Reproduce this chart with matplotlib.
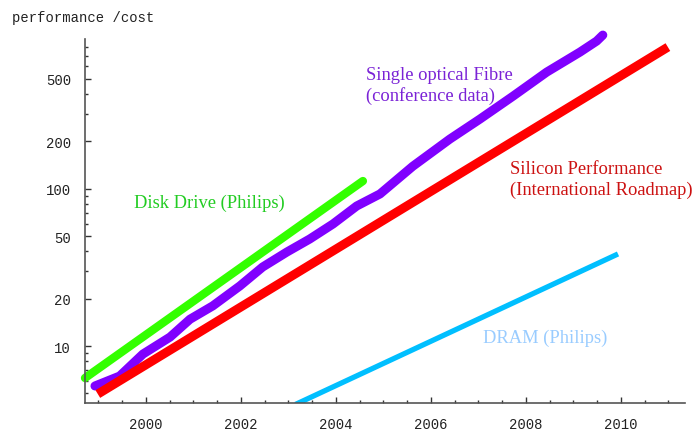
import numpy as np
import matplotlib
matplotlib.use("Agg")
import matplotlib.pyplot as plt
from matplotlib.ticker import FixedLocator, LogLocator, NullFormatter, MultipleLocator

# Data (year, performance/cost)
disk_years = [1998.72, 2004.57]
disk_vals = [6.26, 112]

silicon_years = [1998.99, 2010.99]
silicon_vals = [4.95, 796]

dram_years = [2003.15, 2009.94]
dram_vals = [4.25, 38.5]

fibre_years = [1998.93, 1999.45, 1999.94, 2000.51, 2000.93, 2001.41, 2001.98,
               2002.46, 2002.97, 2003.45, 2003.94, 2004.44, 2004.93, 2005.62,
               2006.40, 2007.03, 2007.73, 2008.44, 2009.14, 2009.49, 2009.62]
fibre_vals = [5.57, 6.44, 8.89, 11.4, 14.8, 18.0, 24.1,
              31.8, 39.6, 47.9, 59.7, 77.7, 92.7, 139,
              207, 277, 388, 552, 740, 869, 949]

y_ticks = [10, 20, 50, 100, 200, 500]
x_ticks = [2000, 2002, 2004, 2006, 2008, 2010]

fig = plt.figure(figsize=(6.95, 4.31), dpi=100)
ax = fig.add_axes([0.1223, 0.0626, 0.8633, 0.8444])
ax.set_yscale("log")
ax.set_xlim(1998.72, 2011.35)
ax.set_ylim(4.34, 895)

ax.plot(disk_years, disk_vals, color="#33ff00", lw=6, solid_capstyle="round", clip_on=False)
ax.plot(fibre_years, fibre_vals, color="#8000ff", lw=6.5, solid_capstyle="round",
        solid_joinstyle="round", clip_on=False)
ax.plot(silicon_years, silicon_vals, color="#ff0000", lw=6.5, solid_capstyle="butt", clip_on=False)
ax.plot(dram_years, dram_vals, color="#00bfff", lw=3.8, solid_capstyle="butt")

serif = "Liberation Serif"
fs = 13.3
ax.text(1999.75, 82, "Disk Drive (Philips)", color="#22cc22", fontsize=fs,
        family=serif, va="center", ha="left")
ax.text(2004.63, 456, "Single optical Fibre\n(conference data)", color="#7a22d6",
        fontsize=fs, family=serif, va="center", ha="left", linespacing=1.25)
ax.text(2007.66, 115, "Silicon Performance\n(International Roadmap)", color="#cc1111",
        fontsize=fs, family=serif, va="center", ha="left", linespacing=1.25)
ax.text(2007.09, 11.4, "DRAM (Philips)", color="#99ccff", fontsize=fs,
        family=serif, va="center", ha="left")

# axes styling
for s in ["top", "right"]:
    ax.spines[s].set_visible(False)
for s in ["left", "bottom"]:
    ax.spines[s].set_color("#555555")
    ax.spines[s].set_linewidth(1.2)

ax.yaxis.set_major_locator(FixedLocator(y_ticks))
ax.yaxis.set_major_formatter(plt.FixedFormatter([str(v) for v in y_ticks]))
ax.yaxis.set_minor_locator(LogLocator(base=10, subs=np.arange(1, 10)))
ax.yaxis.set_minor_formatter(NullFormatter())
ax.xaxis.set_major_locator(FixedLocator(x_ticks))
ax.xaxis.set_minor_locator(MultipleLocator(0.5))

mono = "Liberation Mono"
ax.tick_params(which="major", direction="in", length=4, width=1, color="#333333",
               labelsize=10, pad=10)
ax.tick_params(which="minor", direction="in", length=2, width=1, color="#333333")
for lab in ax.get_xticklabels() + ax.get_yticklabels():
    lab.set_family(mono)
    lab.set_color("#222222")

fig.text(12 / 695, 1 - 18 / 431, "performance /cost", family=mono, fontsize=10,
         va="center", ha="left", color="#222222")

fig.savefig("out.png", dpi=100)
